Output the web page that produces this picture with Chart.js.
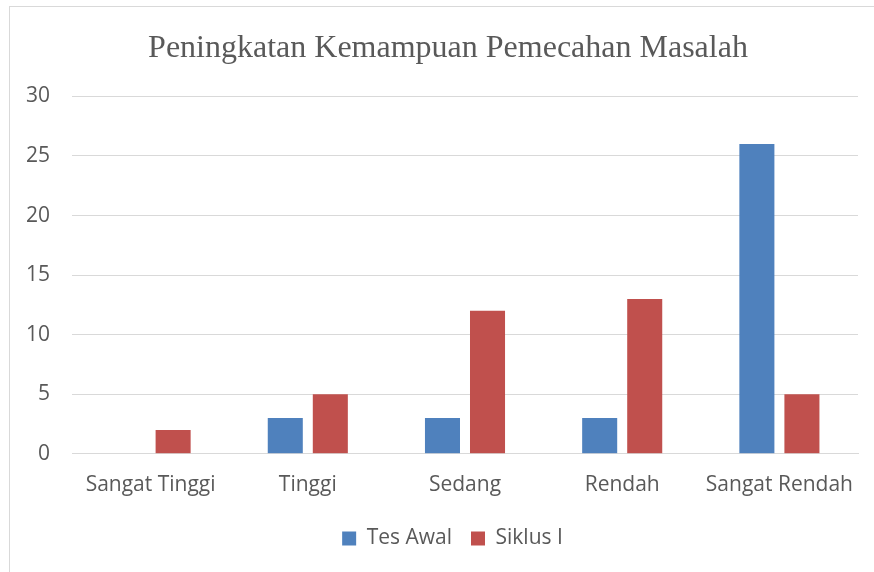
<!DOCTYPE html>
<html>
<head>
<meta charset="utf-8">
<script src="https://cdn.jsdelivr.net/npm/chart.js@4.4.1/dist/chart.umd.min.js"></script>
<style>
  html, body { margin: 0; padding: 0; background: #fff; overflow: hidden; }
  #wrap { position: relative; width: 874px; height: 572px; }
  #frame { position: absolute; left: 9px; top: 6px; width: 880px; height: 580px;
           border: 1px solid #d9d9d9; pointer-events: none; }
</style>
</head>
<body>
<div id="wrap">
  <canvas id="grafik" width="874" height="572"></canvas>
  <div id="frame"></div>
</div>
<script>
const kategori = ['Sangat Tinggi', 'Tinggi', 'Sedang', 'Rendah', 'Sangat Rendah'];
const tesAwal = [0, 3, 3, 3, 26];
const siklus1 = [2, 5, 12, 13, 5];

const ctx = document.getElementById('grafik').getContext('2d');
const abu = '#595959';
const fontLabel = { family: '"Open Sans", sans-serif', size: 21 };

// judul & legenda di tengah bingkai grafik, bukan di tengah kanvas
const geserBlok = {
  id: 'geserBlok',
  afterLayout(chart) {
    chart.titleBlock.left = 38;
    chart.legend.left = 47;
  }
};

new Chart(ctx, {
  type: 'bar',
  data: {
    labels: kategori,
    datasets: [
      { label: 'Tes Awal', data: tesAwal, backgroundColor: '#4F81BD' },
      { label: 'Siklus I', data: siklus1, backgroundColor: '#C0504D' }
    ]
  },
  options: {
    responsive: false,
    animation: false,
    categoryPercentage: 0.573,
    barPercentage: 0.778,
    layout: { padding: { left: 0, right: 16, top: 0, bottom: 13 } },
    plugins: {
      title: {
        display: true,
        text: 'Peningkatan Kemampuan Pemecahan Masalah',
        color: abu,
        font: { family: '"Liberation Serif", "Times New Roman", serif', size: 32, weight: 'normal' },
        padding: { top: 29, bottom: 29 }
      },
      legend: {
        position: 'bottom',
        labels: {
          color: abu,
          font: fontLabel,
          boxWidth: 14,
          boxHeight: 14,
          padding: 19
        }
      },
      tooltip: { enabled: false }
    },
    scales: {
      x: {
        grid: { display: false },
        border: { color: '#d9d9d9', width: 1 },
        ticks: { color: abu, font: fontLabel, padding: 11, maxRotation: 0 }
      },
      y: {
        min: 0,
        max: 30,
        afterFit: s => { s.width = 72; },
        grid: { color: '#d9d9d9', drawTicks: false },
        border: { display: false },
        ticks: { stepSize: 5, color: abu, font: fontLabel, padding: 22 }
      }
    }
  },
  plugins: [geserBlok]
});
</script>
</body>
</html>
